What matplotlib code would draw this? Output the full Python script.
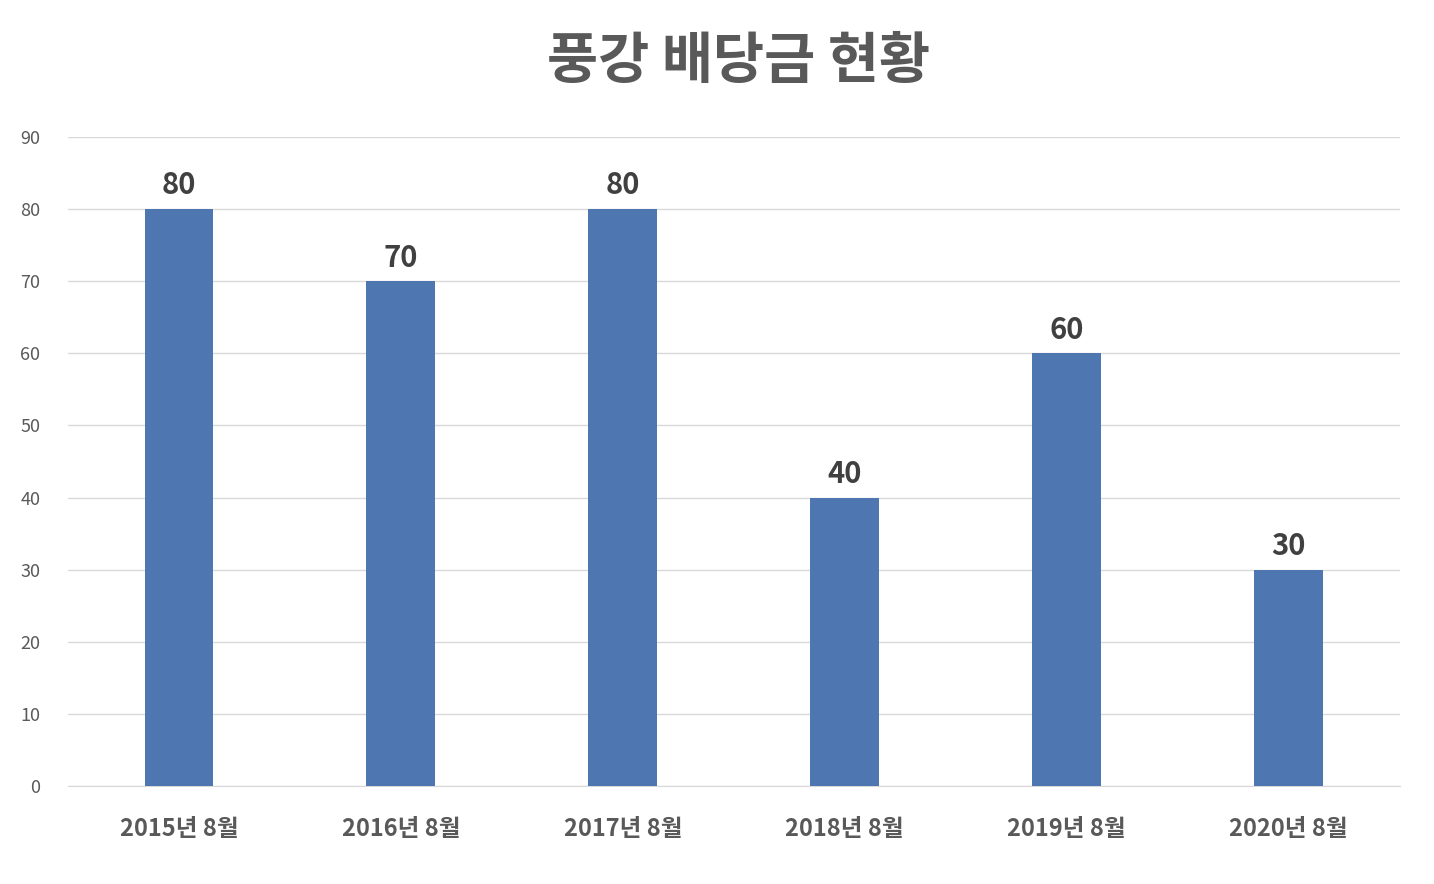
import matplotlib
matplotlib.use("Agg")
import matplotlib.pyplot as plt

categories = ["2015년 8월", "2016년 8월", "2017년 8월", "2018년 8월", "2019년 8월", "2020년 8월"]
values = [80, 70, 80, 40, 60, 30]
yticks = [0, 10, 20, 30, 40, 50, 60, 70, 80, 90]

plt.rcParams['font.family'] = ['Noto Sans CJK KR', 'DejaVu Sans']
fig = plt.figure(figsize=(14.34, 8.84), dpi=100)
ax = fig.add_axes([0.0474, 0.1109, 0.9286, 0.7341])
x = range(len(categories))
ax.bar(x, values, width=0.31, color="#4E77B1", zorder=3)
for xi, v in zip(x, values):
    ax.text(xi, v + 1.2, str(v), ha="center", va="bottom", fontsize=21, fontweight="bold", color="#404040")
ax.set_xlim(-0.5, len(categories) - 0.5)
ax.set_ylim(0, 90)
ax.set_yticks(yticks)
ax.set_xticks(list(x))
ax.set_xticklabels(categories, fontsize=17, fontweight="bold", color="#595959")
ax.tick_params(axis="y", labelsize=13, colors="#595959", length=0, pad=20)
ax.tick_params(axis="x", length=0, pad=22)
ax.grid(axis="y", color="#D9D9D9", linewidth=1, zorder=0)
for s in ["top", "right", "left"]:
    ax.spines[s].set_visible(False)
ax.spines["bottom"].set_color("#D9D9D9")
fig.text(0.515, 0.93, "풍강 배당금 현황", ha="center", va="center", fontsize=40, fontweight="bold", color="#595959")
fig.savefig("out.png", dpi=100)
